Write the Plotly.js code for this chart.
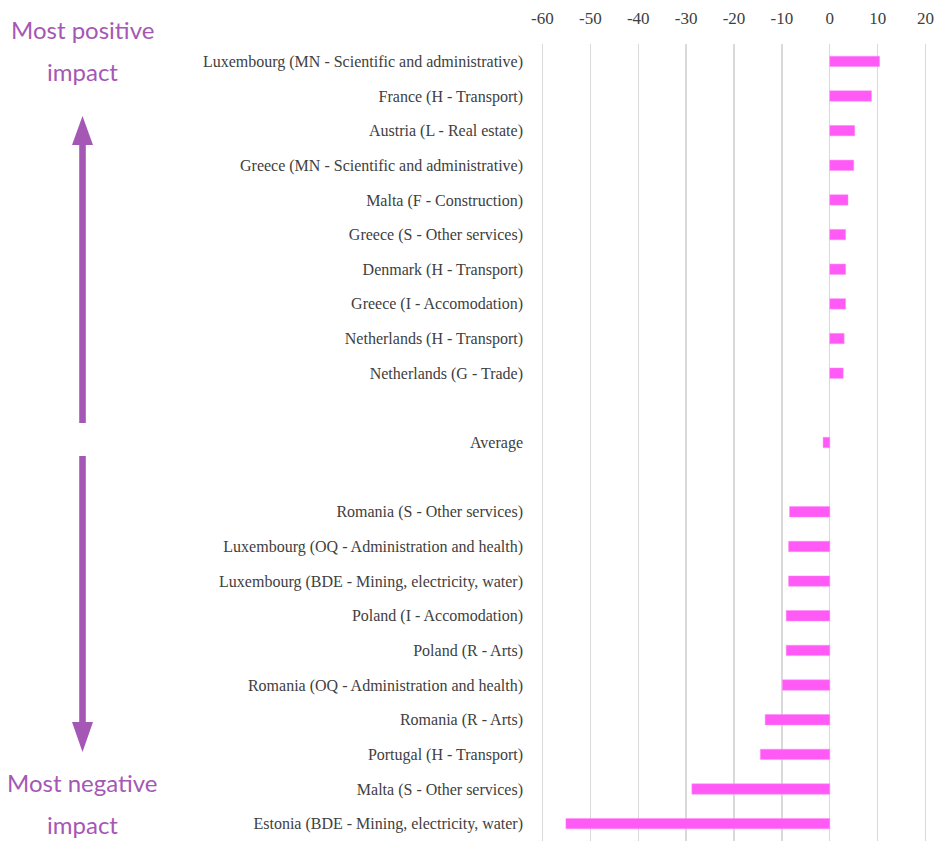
<!DOCTYPE html>
<html>
<head>
<meta charset="utf-8">
<script src="https://cdn.plot.ly/plotly-3.0.1.min.js"></script>
<style>html,body{margin:0;padding:0;background:#fff;}#chart{width:937px;height:841px;}</style>
</head>
<body>
<div id="chart"></div>
<script>
// ---- data (top to bottom) ----
const categories = [
  "Luxembourg (MN - Scientific and administrative)",
  "France (H - Transport)",
  "Austria (L - Real estate)",
  "Greece (MN - Scientific and administrative)",
  "Malta (F - Construction)",
  "Greece (S - Other services)",
  "Denmark (H - Transport)",
  "Greece (I - Accomodation)",
  "Netherlands (H - Transport)",
  "Netherlands (G - Trade)",
  " ",
  "Average",
  "  ",
  "Romania (S - Other services)",
  "Luxembourg (OQ - Administration and health)",
  "Luxembourg (BDE - Mining, electricity, water)",
  "Poland (I - Accomodation)",
  "Poland (R - Arts)",
  "Romania (OQ - Administration and health)",
  "Romania (R - Arts)",
  "Portugal (H - Transport)",
  "Malta (S - Other services)",
  "Estonia (BDE - Mining, electricity, water)"
];
const values = [
  10.4, 8.7, 5.2, 5.0, 3.8, 3.3, 3.3, 3.3, 3.0, 2.8,
  null, -1.4, null,
  -8.4, -8.6, -8.6, -9.1, -9.1, -9.9, -13.5, -14.5, -28.8, -55.1
];
const xTickValues = [-60, -50, -40, -30, -20, -10, 0, 10, 20];
const topLabelLines = ["Most positive", "impact"];
const bottomLabelLines = ["Most negative", "impact"];

// ---- layout geometry ----
const W = 937, H = 841, L = 541, R = 10, T = 44, B = 0;
const pw = W - L - R, ph = H - T - B;
const px2x = p => (p - L) / pw;
const py2y = p => (H - B - p) / ph;
const purple = "#a557b6";

function arrowShapes(cx, tailY, baseY, tipY) {
  const sw = 3.3, hw = 10.5;
  const shaft = `M ${px2x(cx - sw)} ${py2y(tailY)} L ${px2x(cx + sw)} ${py2y(tailY)} L ${px2x(cx + sw)} ${py2y(baseY)} L ${px2x(cx - sw)} ${py2y(baseY)} Z`;
  const head = `M ${px2x(cx - hw)} ${py2y(baseY)} L ${px2x(cx + hw)} ${py2y(baseY)} L ${px2x(cx)} ${py2y(tipY)} Z`;
  return [
    {type: "path", xref: "paper", yref: "paper", path: shaft, fillcolor: purple, line: {width: 0}},
    {type: "path", xref: "paper", yref: "paper", path: head, fillcolor: purple, line: {width: 0}}
  ];
}

function label(text, cy) {
  return {xref: "paper", yref: "paper", x: px2x(82), y: py2y(cy), text: text, showarrow: false,
    xanchor: "center", yanchor: "middle", align: "center",
    font: {family: "Lato, Open Sans, sans-serif", size: 24, color: purple}};
}

const trace = {
  type: "bar",
  orientation: "h",
  y: categories,
  x: values,
  width: 0.3,
  marker: {color: "#ff5af6", line: {color: "#ff8cf8", width: 0.5}},
  hoverinfo: "x+y"
};

const layout = {
  width: W, height: H,
  margin: {l: L, r: R, t: T, b: B, pad: 0},
  paper_bgcolor: "#ffffff",
  plot_bgcolor: "#ffffff",
  showlegend: false,
  font: {family: "Liberation Serif, DejaVu Serif, serif", color: "#404040"},
  xaxis: {
    side: "top",
    range: [-60.3, 20.3],
    tickvals: xTickValues,
    ticktext: xTickValues.map(String),
    showgrid: true,
    gridcolor: "#d9d9d9",
    gridwidth: 1.3,
    zeroline: true,
    zerolinecolor: "#d9d9d9",
    zerolinewidth: 1.3,
    showline: false,
    ticks: "",
    ticklabelstandoff: 16,
    tickfont: {size: 17, color: "#404040", family: "Liberation Serif, serif"},
    fixedrange: true
  },
  yaxis: {
    type: "category",
    categoryorder: "array",
    categoryarray: categories,
    autorange: "reversed",
    showgrid: false,
    zeroline: false,
    showline: false,
    ticks: "",
    ticklabelstandoff: 17,
    tickfont: {size: 16, color: "#404040", family: "Liberation Serif, serif"},
    fixedrange: true
  },
  shapes: [
    ...arrowShapes(82.5, 423, 145, 116),
    ...arrowShapes(82.5, 456, 722, 752)
  ],
  annotations: [
    label(topLabelLines[0], 30),
    label(topLabelLines[1], 72),
    label(bottomLabelLines[0], 782),
    label(bottomLabelLines[1], 824)
  ]
};

Plotly.newPlot("chart", [trace], layout, {displayModeBar: false, staticPlot: true});
</script>
</body>
</html>
